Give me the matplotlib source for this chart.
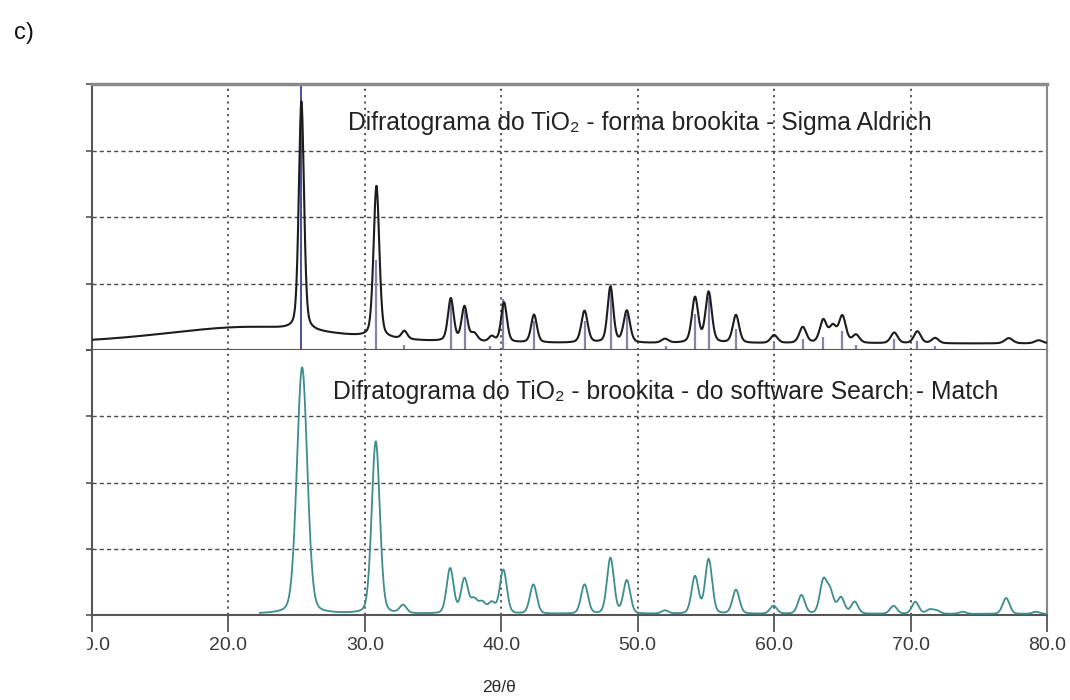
import numpy as np
import matplotlib.pyplot as plt
from matplotlib.patches import Rectangle

plt.rcParams['font.family'] = ['Liberation Sans', 'DejaVu Sans']

# measured pattern (Sigma Aldrich sample): peak list, relative intensity in %
obs_pos = [21.5, 25.35, 30.85, 32.9, 36.3, 37.3, 38.0, 39.3, 40.2, 42.4, 46.1, 48.0, 49.2,
           52.0, 54.2, 55.2, 57.2, 60.0, 62.1, 63.6, 64.3, 65.0, 66.0, 68.8, 70.5, 71.8,
           77.2, 79.4]
obs_height = [6.2, 86.0, 57.0, 3.0, 16.0, 13.0, 3.0, 2.0, 15.0, 10.5, 12.0, 21.0, 12.0,
              1.5, 17.0, 19.0, 10.5, 3.0, 6.0, 8.5, 6.0, 10.0, 3.0, 4.0, 4.5, 2.0,
              2.0, 1.2]
obs_fwhm = [15.0, 0.45, 0.5, 0.5, 0.5, 0.5, 0.6, 0.5, 0.5, 0.5, 0.55, 0.5, 0.55,
            0.6, 0.55, 0.55, 0.55, 0.6, 0.6, 0.6, 0.6, 0.6, 0.6, 0.6, 0.6, 0.6,
            0.7, 0.7]
obs_base = 2.4

# reference lines drawn under the measured pattern
stick_pos = [25.35, 30.85, 32.9, 36.35, 37.35, 39.2, 40.15, 42.4, 46.15, 48.05, 49.2,
             52.05, 54.2, 55.2, 57.2, 60.0, 62.1, 63.6, 65.0, 66.0, 68.75, 70.45, 71.8]
stick_height = [100, 34, 2, 20, 15, 1.5, 19, 11, 11, 25, 13.5,
                1.5, 13.5, 20, 8, 2.3, 4, 5, 7, 2, 4, 3.5, 1.5]

# calculated pattern (Search-Match)
calc_pos = [25.4, 30.8, 32.8, 36.25, 37.3, 38.0, 38.6, 39.3, 40.15, 42.35, 46.1, 48.0,
            49.2, 52.0, 54.2, 55.2, 57.2, 59.95, 62.0, 63.6, 64.1, 64.9, 65.9, 68.75,
            70.35, 71.4, 71.9, 73.8, 77.0, 79.2]
calc_height = [93.0, 65.0, 3.0, 17.0, 13.0, 5.0, 4.0, 4.0, 16.5, 11.0, 11.0, 21.0,
               12.5, 1.2, 14.0, 20.5, 9.0, 3.0, 7.0, 12.0, 8.0, 6.0, 4.5, 3.0,
               4.5, 1.5, 1.2, 0.8, 6.0, 0.8]
calc_fwhm = [0.9, 0.7, 0.6, 0.6, 0.6, 0.6, 0.6, 0.6, 0.6, 0.6, 0.6, 0.6,
             0.6, 0.6, 0.6, 0.6, 0.6, 0.6, 0.6, 0.6, 0.6, 0.6, 0.6, 0.6,
             0.6, 0.6, 0.6, 0.6, 0.6, 0.6]
calc_start = 22.3

xticks = [10, 20, 30, 40, 50, 60, 70, 80]
xticklabels = ['10.0', '20.0', '30.0', '40.0', '50.0', '60.0', '70.0', '80.0']


def pattern(x, pos, height, fwhm, eta=0.35):
    y = np.zeros_like(x)
    for p, h, w in zip(pos, height, fwhm):
        d = (x - p) / w
        y += h * (eta / (1 + 4 * d ** 2) + (1 - eta) * np.exp(-4 * np.log(2) * d ** 2))
    return y


x_obs = np.linspace(10, 80, 3500)
y_obs = obs_base + pattern(x_obs, obs_pos, obs_height, obs_fwhm)
x_calc = np.linspace(calc_start, 80, 3000)
y_calc = 0.4 + pattern(x_calc, calc_pos, calc_height, calc_fwhm, eta=0.2)

fig = plt.figure(figsize=(10.7, 7.0), dpi=100)
ax1 = fig.add_axes([92 / 1070, 0.5, 955 / 1070, 266 / 700])
ax2 = fig.add_axes([92 / 1070, 85 / 700, 955 / 1070, 265 / 700], sharex=ax1)

grid_c = '#4a4a4a'
for ax in (ax1, ax2):
    ax.set_xlim(10, 80)
    ax.set_ylim(0, 100)
    ax.set_yticks([0, 25, 50, 75, 100])
    ax.set_yticklabels([])
    ax.tick_params(axis='y', direction='out', length=4, width=1.2, color='#555555')
    for yv in (25, 50, 75):
        ax.axhline(yv, color=grid_c, lw=1.0, ls=(0, (3, 2.2)), zorder=1)
    for xv in xticks[1:-1]:
        ax.axvline(xv, color=grid_c, lw=1.3, ls=(0, (1.2, 2.3)), zorder=1)
    ax.spines['left'].set_color('#555555')
    ax.spines['left'].set_linewidth(1.5)
    ax.spines['right'].set_color('#8a8a8a')
    ax.spines['right'].set_linewidth(1.5)

ax1.spines['top'].set_color('#8a8a8a')
ax1.spines['top'].set_linewidth(2.5)
ax1.spines['bottom'].set_color('#555555')
ax1.spines['bottom'].set_linewidth(1.5)
ax2.spines['top'].set_visible(False)
ax2.spines['bottom'].set_color('#555555')
ax2.spines['bottom'].set_linewidth(1.5)
ax1.tick_params(axis='x', length=0, labelbottom=False)

ax2.set_xticks(xticks)
ax2.set_xticklabels(xticklabels)
ax2.tick_params(axis='x', direction='out', length=12, width=1.3, color='#555555',
                labelsize=14, labelcolor='#3a3a3a', pad=4)

# reference sticks and measured trace
ax1.vlines(stick_pos[:1], 0, stick_height[:1], color='#4d4d9e', lw=1.4, zorder=2)
ax1.vlines(stick_pos[1:], 0, stick_height[1:], color='#8585aa', lw=1.6, zorder=2)
ax1.plot(x_obs, y_obs, color='#1c1c1c', lw=1.5, zorder=3)

ax2.plot(x_calc, y_calc, color='#3e8c8c', lw=1.3, zorder=3)

ax1.text(28.77, 82.7, 'Difratograma do TiO₂ - forma brookita - Sigma Aldrich',
         fontsize=17.8, color='#222222', va='baseline', ha='left', zorder=4)
ax2.text(27.67, 81.5, 'Difratograma do TiO₂ - brookita - do software Search - Match',
         fontsize=17.8, color='#222222', va='baseline', ha='left', zorder=4)

fig.text(499 / 1070, 1 - 688 / 700, '2θ/θ', fontsize=12.5, color='#2a2a2a',
         ha='center', va='center')
fig.text(14 / 1070, 1 - 33 / 700, 'c)', fontsize=17, color='#111111',
         ha='left', va='center')

# left margin is blank, which cuts the first tick label
fig.add_artist(Rectangle((0, 1 - 665 / 700), 86 / 1070, 35 / 700,
                         transform=fig.transFigure, color='white', zorder=10))

fig.savefig('out.png', dpi=100)
